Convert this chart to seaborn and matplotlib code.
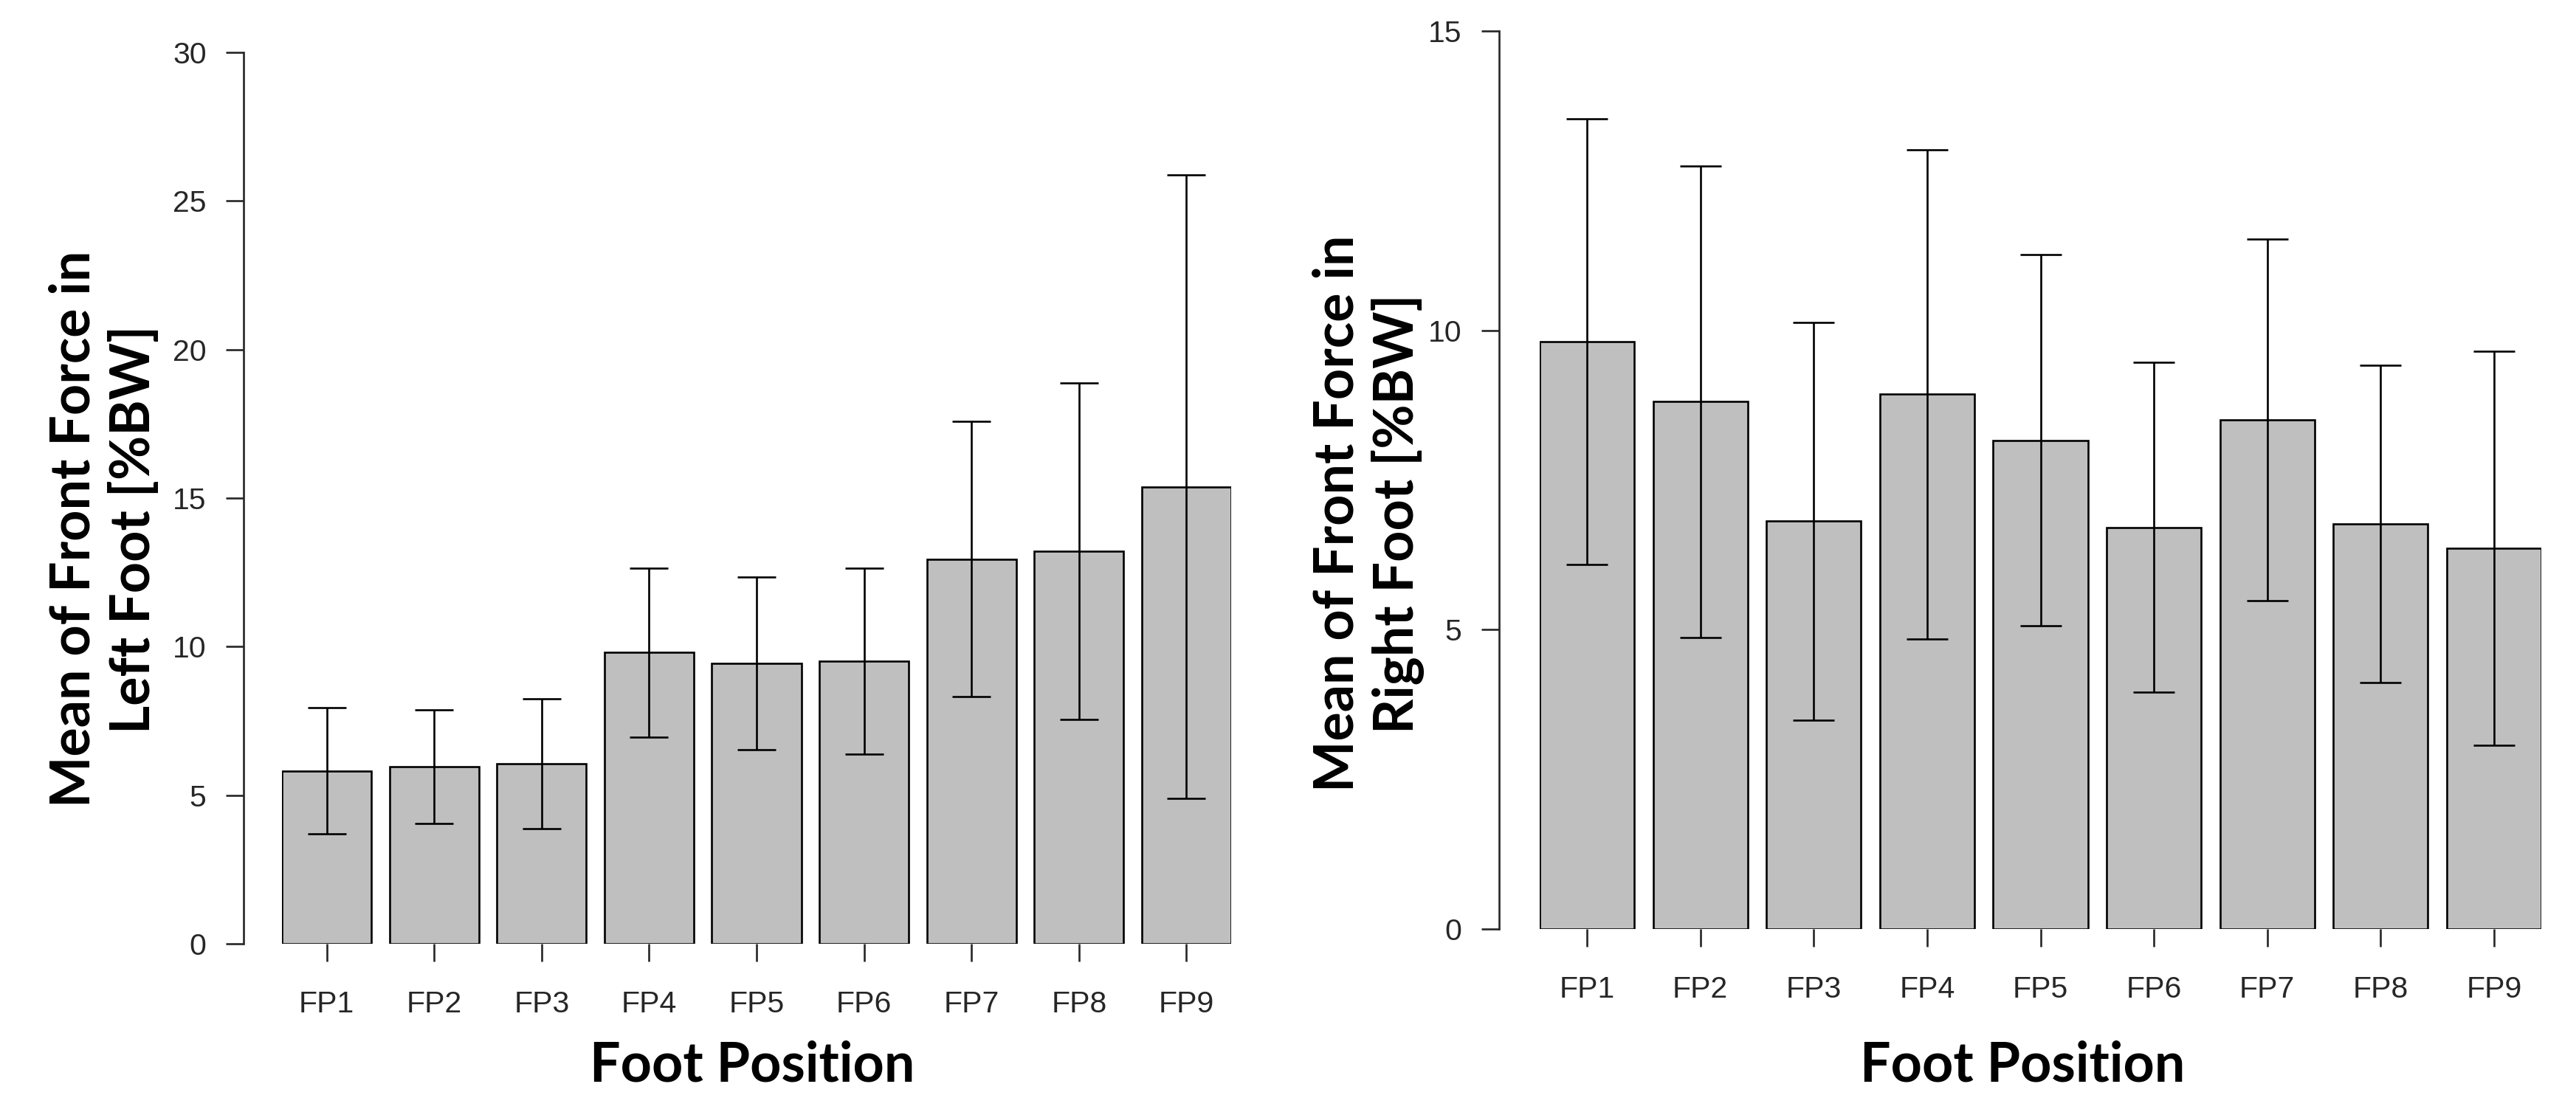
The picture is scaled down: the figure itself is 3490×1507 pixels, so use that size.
import matplotlib
matplotlib.use("Agg")
import matplotlib.pyplot as plt
import seaborn as sns
import pandas as pd

# ---------------- data ----------------
positions = ["FP1", "FP2", "FP3", "FP4", "FP5", "FP6", "FP7", "FP8", "FP9"]
left_mean = [5.82, 5.96, 6.06, 9.80, 9.44, 9.52, 12.95, 13.21, 15.38]
left_sd = [2.13, 1.91, 2.19, 2.84, 2.90, 3.13, 4.63, 5.66, 10.50]
right_mean = [9.81, 8.81, 6.81, 8.93, 8.16, 6.71, 8.51, 6.77, 6.36]
right_sd = [3.72, 3.94, 3.32, 4.08, 3.10, 2.75, 3.02, 2.65, 3.29]
left_yticks = [0, 5, 10, 15, 20, 25, 30]
right_yticks = [0, 5, 10, 15]
xlabel = "Foot Position"
left_ylabel = ["Mean of Front Force in", "Left Foot [%BW]"]
right_ylabel = ["Mean of Front Force in", "Right Foot [%BW]"]

sns.set_style("ticks")
plt.rcParams["font.family"] = ["Liberation Sans", "DejaVu Sans"]

W, H = 3490, 1507
fig = plt.figure(figsize=(W / 100, H / 100), dpi=100)

LW = 1.9
BAR_W = 0.8333


def px_axes(x0, y_top, x1, y_bottom):
    return [x0 / W, 1 - y_bottom / H, (x1 - x0) / W, (y_bottom - y_top) / H]


def panel(rect, means, sds, yticks, ymax, spine_offset_pt, capsize):
    ax = fig.add_axes(rect)
    df = pd.DataFrame({"pos": positions, "mean": means})
    sns.barplot(data=df, x="pos", y="mean", order=positions, ax=ax,
                color="#bfbfbf", saturation=1, edgecolor="black",
                linewidth=LW, width=BAR_W, errorbar=None)
    ax.errorbar(x=list(range(len(positions))), y=means, yerr=sds, fmt="none",
                ecolor="black", elinewidth=LW, capsize=capsize, capthick=LW,
                clip_on=False, zorder=5)
    ax.set_xlim(-BAR_W / 2, len(positions) - 1 + BAR_W / 2)
    ax.set_ylim(0, ymax)
    ax.set_yticks(yticks)
    ax.set_yticklabels([str(t) for t in yticks])
    ax.set_xlabel("")
    ax.set_ylabel("")
    for s in ["top", "right", "bottom"]:
        ax.spines[s].set_visible(False)
    ax.spines["left"].set_position(("outward", spine_offset_pt))
    ax.spines["left"].set_bounds(0, ymax)
    ax.spines["left"].set_linewidth(LW)
    ax.tick_params(axis="y", length=17.3, width=LW, pad=19, labelsize=29.5,
                   direction="out")
    ax.tick_params(axis="x", length=17.3, width=LW, pad=28, labelsize=29.5,
                   direction="out")
    ax.set_facecolor("white")
    return ax


axL = panel(px_axes(382, 71, 1668, 1279), left_mean, left_sd, left_yticks, 30,
            52 * 0.72, 18.7)
axR = panel(px_axes(2086, 42, 3443, 1259), right_mean, right_sd, right_yticks, 15,
            55 * 0.72, 20.5)

lab_font = dict(family=["Lato", "DejaVu Sans"], fontweight="bold",
                fontsize=53, color="black")

# x labels
fig.text(1019 / W, 1 - 1465 / H, xlabel, ha="center", va="baseline", **lab_font)
fig.text(2740 / W, 1 - 1465 / H, xlabel, ha="center", va="baseline", **lab_font)

# y labels (two lines each, rotated)
for (bx1, bx2, cy, lines) in [(122, 203, 717, left_ylabel),
                              (1834, 1915, 696, right_ylabel)]:
    fig.text(bx1 / W, 1 - cy / H, lines[0], rotation=90, rotation_mode="anchor",
             ha="center", va="baseline", **lab_font)
    fig.text(bx2 / W, 1 - cy / H, lines[1], rotation=90, rotation_mode="anchor",
             ha="center", va="baseline", **lab_font)

fig.savefig("out.png", dpi=100, facecolor="white")
